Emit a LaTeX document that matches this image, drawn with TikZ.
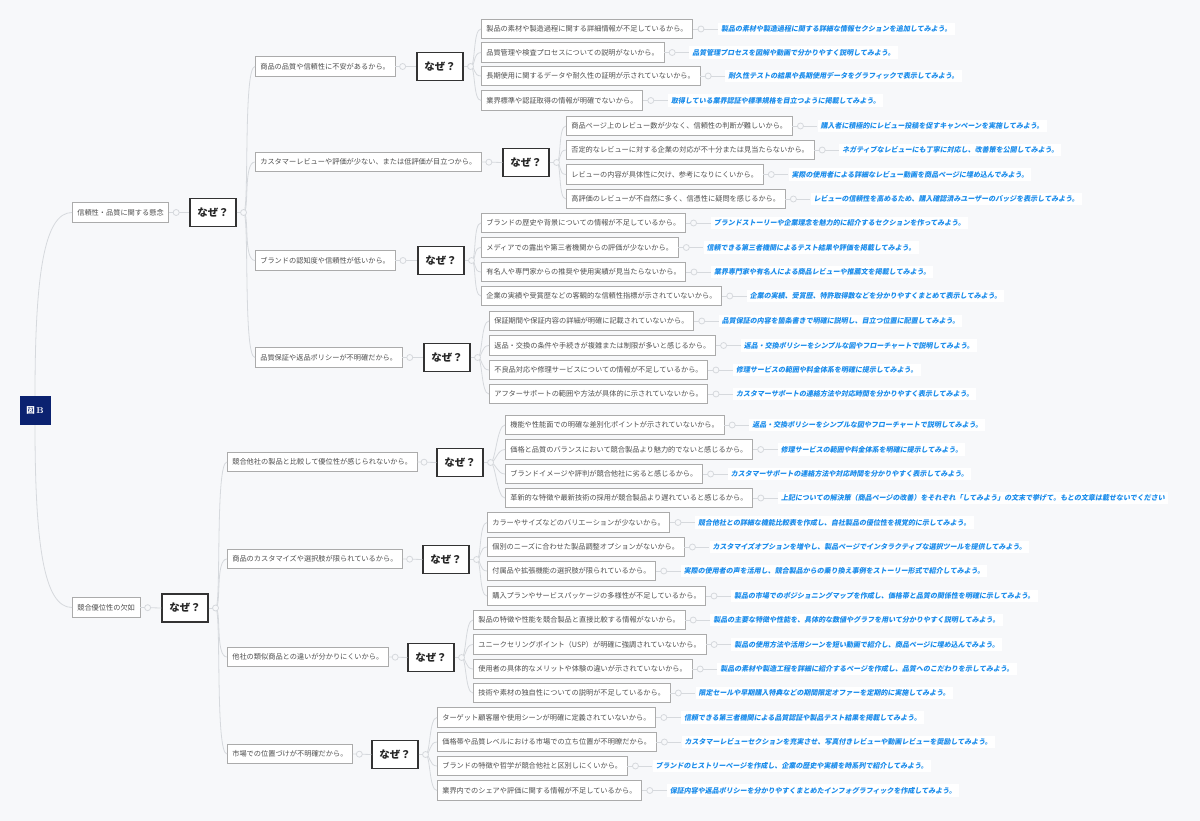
\documentclass[tikz,border=0pt]{standalone}
\usepackage{fontspec}
\setmainfont{Noto Sans CJK JP}
\newfontfamily\bluefont{Noto Sans CJK JP}[FakeSlant=0.18]
\newfontfamily\lmr{Latin Modern Roman}
\usetikzlibrary{calc}
\definecolor{bg}{HTML}{F7F8FA}
\definecolor{lgray}{HTML}{D6D9DD}
\definecolor{bgray}{HTML}{ABABAB}
\definecolor{tgray}{HTML}{4F4F4F}
\definecolor{blue1}{HTML}{1A8CEB}
\definecolor{navy}{HTML}{0B2270}
\tikzset{
  leafbox/.style={draw=bgray, fill=white, line width=0.6pt, font=\fontsize{7.2}{8}\selectfont, text=tgray, inner xsep=5pt, inner ysep=0pt, minimum height=19.5pt},
  nzbox/.style={draw=black!80, line width=1.1pt, fill=white, font=\fontsize{10.5}{12}\selectfont\bfseries, text=black!85, minimum width=46pt, minimum height=28pt, inner sep=0pt},
  rootbox/.style={fill=navy, text=white, font=\fontsize{8.5}{10}\selectfont\bfseries, minimum width=31pt, minimum height=29pt, inner sep=0pt},
  bluetxt/.style={fill=white, text=blue1, font=\fontsize{7}{8}\selectfont\bluefont\bfseries, inner xsep=3pt, inner ysep=3pt},
  conn/.style={draw=lgray, line width=0.8pt},
  dot/.style={circle, draw=lgray, fill=bg, line width=0.8pt, minimum size=6pt, inner sep=0pt}
}
\newcommand\leaf[5]{%
  \node[leafbox, anchor=west] (#1) at (#2,#3) {#4};
  \node[bluetxt, anchor=west] (#1b) at ($(#1.east)+(25,0)$) {#5};
  \draw[conn] (#1.east) -- (#1b.west);
  \node[dot] at ($(#1.east)+(8,0)$) {};}
\newcommand\linkto[2]{%
  \draw[conn] (#1.east) -- (#2.west);
  \node[dot] at ($(#1.east)!0.35!(#2.west)$) {};}
\newcommand\fork[4]{%
  \coordinate (#1c) at ($(#1.east)+(7,0)$);
  \draw[conn] (#1.east) -- (#1c);
  \foreach \ch in {#2} {\draw[conn] (#1c) .. controls +(#3,0) and +(-#4,0) .. (\ch.west);}
  \node[dot] at (#1c) {};}
\begin{document}
\begin{tikzpicture}[x=1pt,y=-1pt]
\fill[bg] (0,0) rectangle (1200,821);
\useasboundingbox (0,0) rectangle (1200,821);

% root and level 1
\node[rootbox] (root) at (35,410.5) {図\,{\lmr B}};
\node[leafbox, anchor=west] (L1a) at (72,212.5) {信頼性・品質に関する懸念};
\node[nzbox] (N1a) at (213,212.5) {なぜ？};
\node[leafbox, anchor=west] (L1b) at (72,607.5) {競合優位性の欠如};
\node[nzbox] (N1b) at (185,608) {なぜ？};
\draw[conn] (root.north) .. controls +(0,-120) and +(-28,0) .. (L1a.west);
\draw[conn] (root.south) .. controls +(0,120) and +(-28,0) .. (L1b.west);
\linkto{L1a}{N1a}
\linkto{L1b}{N1b}

% level 2 (top)
\node[leafbox, anchor=west] (A) at (255,66.5) {商品の品質や信頼性に不安があるから。};
\node[nzbox] (NA) at (440,66.5) {なぜ？};
\node[leafbox, anchor=west] (B) at (255,162) {カスタマーレビューや評価が少ない、または低評価が目立つから。};
\node[nzbox] (NB) at (526,162.5) {なぜ？};
\node[leafbox, anchor=west] (C) at (255,260.5) {ブランドの認知度や信頼性が低いから。};
\node[nzbox] (NC) at (441,260.5) {なぜ？};
\node[leafbox, anchor=west] (D) at (255,357.5) {品質保証や返品ポリシーが不明確だから。};
\node[nzbox] (ND) at (447,357.5) {なぜ？};
\linkto{A}{NA}\linkto{B}{NB}\linkto{C}{NC}\linkto{D}{ND}
\fork{N1a}{A,B,C,D}{6}{12}

% level 2 (bottom)
\node[leafbox, anchor=west] (E) at (227,462) {競合他社の製品と比較して優位性が感じられないから。};
\node[nzbox] (NE) at (460,462.5) {なぜ？};
\node[leafbox, anchor=west] (F) at (227,559) {商品のカスタマイズや選択肢が限られているから。};
\node[nzbox] (NF) at (446,559.5) {なぜ？};
\node[leafbox, anchor=west] (G) at (227,657) {他社の類似商品との違いが分かりにくいから。};
\node[nzbox] (NG) at (431,657.5) {なぜ？};
\node[leafbox, anchor=west] (H) at (227,754) {市場での位置づけが不明確だから。};
\node[nzbox] (NH) at (395,754.5) {なぜ？};
\linkto{E}{NE}\linkto{F}{NF}\linkto{G}{NG}\linkto{H}{NH}
\fork{N1b}{E,F,G,H}{6}{12}

% group A
\leaf{a1}{481}{29}{製品の素材や製造過程に関する詳細情報が不足しているから。}{製品の素材や製造過程に関する詳細な情報セクションを追加してみよう。}
\leaf{a2}{481}{52.5}{品質管理や検査プロセスについての説明がないから。}{品質管理プロセスを図解や動画で分かりやすく説明してみよう。}
\leaf{a3}{481}{76}{長期使用に関するデータや耐久性の証明が示されていないから。}{耐久性テストの結果や長期使用データをグラフィックで表示してみよう。}
\leaf{a4}{481}{100.5}{業界標準や認証取得の情報が明確でないから。}{取得している業界認証や標準規格を目立つように掲載してみよう。}
\fork{NA}{a1,a2,a3,a4}{5}{8}

% group B
\leaf{b1}{566}{126}{商品ページ上のレビュー数が少なく、信頼性の判断が難しいから。}{購入者に積極的にレビュー投稿を促すキャンペーンを実施してみよう。}
\leaf{b2}{566}{150}{否定的なレビューに対する企業の対応が不十分または見当たらないから。}{ネガティブなレビューにも丁寧に対応し、改善策を公開してみよう。}
\leaf{b3}{566}{174.5}{レビューの内容が具体性に欠け、参考になりにくいから。}{実際の使用者による詳細なレビュー動画を商品ページに埋め込んでみよう。}
\leaf{b4}{566}{199}{高評価のレビューが不自然に多く、信憑性に疑問を感じるから。}{レビューの信頼性を高めるため、購入確認済みユーザーのバッジを表示してみよう。}
\fork{NB}{b1,b2,b3,b4}{5}{8}

% group C
\leaf{c1}{481}{223}{ブランドの歴史や背景についての情報が不足しているから。}{ブランドストーリーや企業理念を魅力的に紹介するセクションを作ってみよう。}
\leaf{c2}{481}{247.5}{メディアでの露出や第三者機関からの評価が少ないから。}{信頼できる第三者機関によるテスト結果や評価を掲載してみよう。}
\leaf{c3}{481}{272}{有名人や専門家からの推奨や使用実績が見当たらないから。}{業界専門家や有名人による商品レビューや推薦文を掲載してみよう。}
\leaf{c4}{481}{296}{企業の実績や受賞歴などの客観的な信頼性指標が示されていないから。}{企業の実績、受賞歴、特許取得数などを分かりやすくまとめて表示してみよう。}
\fork{NC}{c1,c2,c3,c4}{5}{8}

% group D
\leaf{d1}{489}{321}{保証期間や保証内容の詳細が明確に記載されていないから。}{品質保証の内容を箇条書きで明確に説明し、目立つ位置に配置してみよう。}
\leaf{d2}{489}{345.5}{返品・交換の条件や手続きが複雑または制限が多いと感じるから。}{返品・交換ポリシーをシンプルな図やフローチャートで説明してみよう。}
\leaf{d3}{489}{370}{不良品対応や修理サービスについての情報が不足しているから。}{修理サービスの範囲や料金体系を明確に提示してみよう。}
\leaf{d4}{489}{394}{アフターサポートの範囲や方法が具体的に示されていないから。}{カスタマーサポートの連絡方法や対応時間を分かりやすく表示してみよう。}
\fork{ND}{d1,d2,d3,d4}{5}{8}

% group E
\leaf{e1}{505}{425}{機能や性能面での明確な差別化ポイントが示されていないから。}{返品・交換ポリシーをシンプルな図やフローチャートで説明してみよう。}
\leaf{e2}{505}{449.5}{価格と品質のバランスにおいて競合製品より魅力的でないと感じるから。}{修理サービスの範囲や料金体系を明確に提示してみよう。}
\leaf{e3}{505}{474}{ブランドイメージや評判が競合他社に劣ると感じるから。}{カスタマーサポートの連絡方法や対応時間を分かりやすく表示してみよう。}
\leaf{e4}{505}{498}{革新的な特徴や最新技術の採用が競合製品より遅れていると感じるから。}{上記についての解決策（商品ページの改善）をそれぞれ「してみよう」の文末で挙げて。もとの文章は載せないでください}
\fork{NE}{e1,e2,e3,e4}{5}{8}

% group F
\leaf{f1}{487}{522.5}{カラーやサイズなどのバリエーションが少ないから。}{競合他社との詳細な機能比較表を作成し、自社製品の優位性を視覚的に示してみよう。}
\leaf{f2}{487}{547}{個別のニーズに合わせた製品調整オプションがないから。}{カスタマイズオプションを増やし、製品ページでインタラクティブな選択ツールを提供してみよう。}
\leaf{f3}{487}{571}{付属品や拡張機能の選択肢が限られているから。}{実際の使用者の声を活用し、競合製品からの乗り換え事例をストーリー形式で紹介してみよう。}
\leaf{f4}{487}{596}{購入プランやサービスパッケージの多様性が不足しているから。}{製品の市場でのポジショニングマップを作成し、価格帯と品質の関係性を明確に示してみよう。}
\fork{NF}{f1,f2,f3,f4}{5}{8}

% group G
\leaf{g1}{473}{620}{製品の特徴や性能を競合製品と直接比較する情報がないから。}{製品の主要な特徴や性能を、具体的な数値やグラフを用いて分かりやすく説明してみよう。}
\leaf{g2}{473}{644.5}{ユニークセリングポイント（USP）が明確に強調されていないから。}{製品の使用方法や活用シーンを短い動画で紹介し、商品ページに埋め込んでみよう。}
\leaf{g3}{473}{669}{使用者の具体的なメリットや体験の違いが示されていないから。}{製品の素材や製造工程を詳細に紹介するページを作成し、品質へのこだわりを示してみよう。}
\leaf{g4}{473}{693}{技術や素材の独自性についての説明が不足しているから。}{限定セールや早期購入特典などの期間限定オファーを定期的に実施してみよう。}
\fork{NG}{g1,g2,g3,g4}{5}{8}

% group H
\leaf{h1}{437}{717.5}{ターゲット顧客層や使用シーンが明確に定義されていないから。}{信頼できる第三者機関による品質認証や製品テスト結果を掲載してみよう。}
\leaf{h2}{437}{742}{価格帯や品質レベルにおける市場での立ち位置が不明瞭だから。}{カスタマーレビューセクションを充実させ、写真付きレビューや動画レビューを奨励してみよう。}
\leaf{h3}{437}{766}{ブランドの特徴や哲学が競合他社と区別しにくいから。}{ブランドのヒストリーページを作成し、企業の歴史や実績を時系列で紹介してみよう。}
\leaf{h4}{437}{790.5}{業界内でのシェアや評価に関する情報が不足しているから。}{保証内容や返品ポリシーを分かりやすくまとめたインフォグラフィックを作成してみよう。}
\fork{NH}{h1,h2,h3,h4}{5}{8}
\end{tikzpicture}
\end{document}
